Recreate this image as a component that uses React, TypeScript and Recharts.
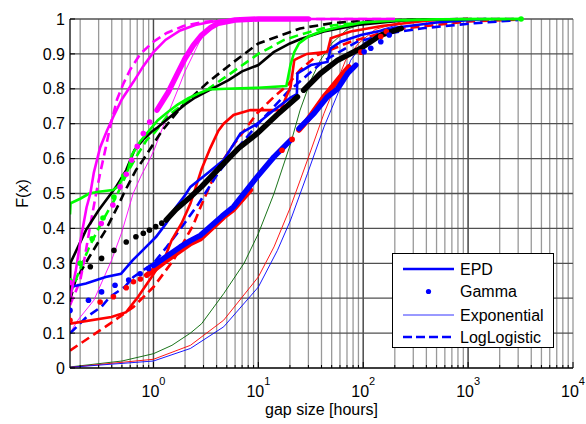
import React from 'react';
import { ComposedChart, Line, Scatter, XAxis, YAxis, CartesianGrid, Legend } from 'recharts';

const FONT = '"Liberation Sans", Arial, Helvetica, sans-serif';

type P = { x: number; y: number };
const pts = (a: number[][]): P[] => a.map(([x, y]) => ({ x, y }));

// ---------- axes ----------
const xTicks = [0.2, 0.3, 0.4, 0.5, 0.6, 0.7, 0.8, 0.9, 1, 2, 3, 4, 5, 6, 7, 8, 9, 10, 20, 30, 40, 50, 60, 70, 80, 90,
  100, 200, 300, 400, 500, 600, 700, 800, 900, 1000, 2000, 3000, 4000, 5000, 6000, 7000, 8000, 9000, 10000];
const xDecades = [1, 10, 100, 1000, 10000];
const xDecadeExp = ['0', '1', '2', '3', '4'];
const majorGrid = [1, 10, 100, 1000];
const yTicks = [0, 0.1, 0.2, 0.3, 0.4, 0.5, 0.6, 0.7, 0.8, 0.9, 1];
const yLabels = ['0', '0.1', '0.2', '0.3', '0.4', '0.5', '0.6', '0.7', '0.8', '0.9', '1'];
const xDomain = [0.16, 10000];

// ---------- magenta ----------
const magentaEPD = pts([[0.16, 0.2], [0.182, 0.28], [0.2, 0.36], [0.23, 0.46], [0.25, 0.5], [0.27, 0.56], [0.31, 0.632], [0.36, 0.68], [0.414, 0.72], [0.5, 0.77], [0.644, 0.82], [0.8, 0.865], [1, 0.905], [1.3, 0.94], [1.8, 0.967], [2.5, 0.983], [3.7, 0.993], [6, 0.998], [10, 1], [200, 1]]);
const magentaLL = pts([[0.16, 0.18], [0.2, 0.25], [0.222, 0.32], [0.25, 0.41], [0.28, 0.49], [0.31, 0.558], [0.35, 0.63], [0.385, 0.69], [0.45, 0.77], [0.517, 0.815], [0.6, 0.855], [0.75, 0.9], [1, 0.935], [1.34, 0.96], [1.93, 0.98], [3, 0.992], [6, 0.998], [20, 1], [200, 1]]);
const magentaGammaDots = pts([[0.16, 0.245], [0.318, 0.414], [0.41, 0.467], [0.48, 0.519], [0.55, 0.555], [0.62, 0.596], [0.7, 0.635], [0.8, 0.672], [0.92, 0.705]]);
const magentaGammaDense = pts([[1.08, 0.739], [1.38, 0.79], [1.7, 0.845], [2, 0.887], [2.4, 0.925], [2.88, 0.954], [3.5, 0.975], [4.16, 0.988], [6, 0.997], [10, 1], [30, 1]]);
const magentaExpo = pts([[0.16, 0.1], [0.19, 0.137], [0.27, 0.194], [0.4, 0.31], [0.5, 0.39], [0.64, 0.5], [0.76, 0.55], [0.93, 0.6], [1.03, 0.63], [1.34, 0.72], [1.72, 0.8], [2, 0.85], [2.5, 0.91], [2.8, 0.94], [3.34, 0.975], [4.5, 0.993], [7, 1], [20, 1]]);

// ---------- green ----------
const greenEPD = pts([[0.16, 0.44], [0.162, 0.472], [0.2, 0.485], [0.244, 0.5], [0.3, 0.505], [0.41, 0.51], [0.46, 0.52], [0.5, 0.54], [0.57, 0.567], [0.62, 0.61], [0.75, 0.65], [0.89, 0.677], [1.1, 0.71], [1.38, 0.734], [1.7, 0.755], [2.15, 0.773], [2.7, 0.787], [3.34, 0.798], [5, 0.8], [10, 0.803], [18.5, 0.808], [20.3, 0.87], [22, 0.905], [24.4, 0.93], [30, 0.95], [40, 0.965], [60, 0.978], [100, 0.99], [200, 0.996], [500, 0.999], [3200, 1]]);
const greenLL = pts([[0.16, 0.21], [0.18, 0.25], [0.244, 0.347], [0.33, 0.424], [0.44, 0.49], [0.556, 0.557], [0.7, 0.61], [0.86, 0.653], [1.03, 0.675], [1.34, 0.72], [1.72, 0.745], [2.08, 0.765], [3.34, 0.8], [5.2, 0.84], [10, 0.9], [17.6, 0.94], [25, 0.955], [52, 0.982], [100, 0.99], [300, 0.997], [1000, 1], [3200, 1]]);
const greenGammaDots = pts([[0.16, 0.25], [0.2, 0.3], [0.26, 0.37], [0.33, 0.43], [0.42, 0.49], [0.52, 0.55], [3200, 1]]);
const greenExpo = pts([[0.16, 0.003], [0.5, 0.02], [1, 0.041], [1.5, 0.065], [2.25, 0.1], [2.88, 0.127], [4.67, 0.213], [7.3, 0.3], [10, 0.385], [14.1, 0.5], [20.3, 0.643], [25, 0.739], [31.7, 0.825], [39, 0.882], [50, 0.93], [70, 0.97], [95, 0.985], [150, 0.997], [300, 1]]);

// ---------- black ----------
const blackEPD = pts([[0.16, 0.19], [0.161, 0.3], [0.2, 0.36], [0.227, 0.395], [0.3, 0.452], [0.44, 0.519], [0.55, 0.567], [0.66, 0.625], [0.8, 0.655], [0.96, 0.677], [1.1, 0.69], [1.38, 0.715], [2, 0.755], [2.5, 0.775], [3.34, 0.795], [5.2, 0.825], [7, 0.85], [10, 0.868], [14, 0.905], [20, 0.93], [25, 0.942], [42, 0.964], [88, 0.983], [266, 0.997], [1000, 1]]);
const blackLL = pts([[0.16, 0.194], [0.18, 0.25], [0.244, 0.318], [0.35, 0.395], [0.47, 0.471], [0.53, 0.505], [0.68, 0.567], [0.77, 0.59], [1.19, 0.677], [1.85, 0.749], [3.34, 0.82], [6, 0.88], [10, 0.93], [25, 0.973], [50, 0.988], [100, 0.995], [1000, 1], [3200, 1]]);
const blackGammaDots = pts([[0.25, 0.29], [0.32, 0.314], [0.42, 0.337], [0.55, 0.361], [0.68, 0.376], [0.8, 0.386], [0.915, 0.395], [1.05, 0.405], [1.2, 0.415]]);
const blackGammaDense = pts([[1.32, 0.424], [1.65, 0.455], [2.25, 0.49], [2.88, 0.52], [4.67, 0.586], [6.5, 0.63], [9.75, 0.672], [15, 0.725], [23.6, 0.777]]);
const blackGammaDense2 = pts([[27, 0.796], [39, 0.844], [57, 0.882], [95, 0.916], [147, 0.954], [230, 0.973]]);

// ---------- blue ----------
const blueEPD = pts([[0.16, 0.21], [0.161, 0.232], [0.227, 0.242], [0.35, 0.261], [0.49, 0.27], [0.635, 0.309], [0.85, 0.347], [1.06, 0.376], [1.32, 0.414], [1.65, 0.462], [2, 0.495], [2.25, 0.519], [3.34, 0.56], [4.67, 0.596], [6.75, 0.672], [9.75, 0.7], [14.1, 0.739], [20.3, 0.775], [23.3, 0.785], [23.6, 0.844], [31.7, 0.868], [45.6, 0.877], [49, 0.916], [61, 0.935], [95, 0.954], [200, 0.975], [500, 0.99], [1500, 1]]);
const blueLL = pts([[0.16, 0.099], [0.23, 0.146], [0.318, 0.175], [0.385, 0.204], [0.53, 0.232], [0.645, 0.261], [1, 0.3], [1.34, 0.347], [1.72, 0.39], [2.08, 0.424], [2.68, 0.47], [4.16, 0.56], [6.75, 0.64], [10, 0.7], [18.9, 0.79], [27, 0.83], [42, 0.88], [88, 0.935], [184, 0.96], [384, 0.974], [1150, 0.988], [3000, 0.997]]);
const blueGammaDots = pts([[0.16, 0.165], [0.24, 0.194], [0.32, 0.218], [0.43, 0.237], [0.58, 0.252], [0.746, 0.27], [0.9, 0.285], [102, 0.906], [118, 0.916], [147, 0.935], [177, 0.954]]);
const blueGammaDense = pts([[1, 0.294], [1.34, 0.32], [1.8, 0.347], [2.25, 0.365], [2.8, 0.38], [4.5, 0.435], [5.8, 0.462], [9.75, 0.548], [14.1, 0.605], [20.3, 0.653]]);
const blueGammaDense2 = pts([[24.4, 0.686], [34, 0.73], [45.6, 0.777], [57, 0.8], [71, 0.844], [85, 0.868]]);
const blueExpo = pts([[0.16, 0.002], [1, 0.02], [2.25, 0.056], [4.67, 0.118], [10, 0.232], [15.2, 0.337], [20.3, 0.424], [29.4, 0.557], [42.3, 0.691], [61, 0.806], [76, 0.882], [100, 0.93], [150, 0.97], [250, 0.99], [500, 1]]);

// ---------- red ----------
const redEPD = pts([[0.16, 0.127], [0.397, 0.146], [0.55, 0.16], [0.714, 0.204], [0.96, 0.261], [1.11, 0.29], [1.29, 0.318], [1.49, 0.366], [1.85, 0.414], [2.25, 0.471], [2.88, 0.57], [3.48, 0.63], [4.16, 0.68], [4.67, 0.7], [5.8, 0.725], [8.4, 0.739], [16.3, 0.739], [20.3, 0.806], [22, 0.882], [23.6, 0.887], [29, 0.9], [45.6, 0.906], [49, 0.945], [76, 0.964], [150, 0.98], [400, 0.995], [1000, 1]]);
const redLL = pts([[0.16, 0.05], [0.385, 0.127], [0.645, 0.175], [1, 0.232], [1.55, 0.309], [2.4, 0.41], [2.8, 0.46], [4.05, 0.57], [5.8, 0.64], [9.75, 0.73], [14.1, 0.777], [18.9, 0.81], [25, 0.854], [36.7, 0.897], [76, 0.935], [200, 0.97], [1000, 0.993], [3000, 0.998]]);
const redGammaDots = pts([[0.16, 0.137], [0.31, 0.189], [0.415, 0.204], [0.55, 0.23], [0.644, 0.247], [0.75, 0.255], [16.8, 0.624], [21, 0.655], [95, 0.905], [147, 0.95], [166, 0.964]]);
const redGammaDense = pts([[0.86, 0.266], [1, 0.28], [1.34, 0.309], [2.25, 0.357], [2.8, 0.37], [4.67, 0.433], [5.8, 0.455], [8.4, 0.51]]);
const redGammaDense2 = pts([[24.4, 0.682], [29.4, 0.71], [42.3, 0.777], [49, 0.8], [61, 0.835], [73, 0.863]]);
const redExpo = pts([[0.16, 0.002], [1, 0.025], [2.25, 0.065], [4.67, 0.137], [10, 0.261], [14.1, 0.347], [20.3, 0.462], [29.4, 0.596], [42.3, 0.73], [57, 0.825], [68, 0.882], [90, 0.93], [130, 0.97], [250, 0.995], [500, 1]]);

// ---------- styling ----------
const MAGENTA = '#ff00ff';
const GREEN = '#00ff00';
const DARKGREEN = '#006400';
const BLACK = '#000000';
const BLUE = '#0000ff';
const RED = '#ff0000';

const expoLines = [
  { id: 'ge', data: greenExpo, color: DARKGREEN },
  { id: 're', data: redExpo, color: RED },
  { id: 'be', data: blueExpo, color: BLUE },
  { id: 'me', data: magentaExpo, color: MAGENTA },
];
const llLines = [
  { id: 'rl', data: redLL, color: RED },
  { id: 'bl', data: blueLL, color: BLUE },
  { id: 'kl', data: blackLL, color: BLACK },
  { id: 'gl', data: greenLL, color: GREEN },
  { id: 'ml', data: magentaLL, color: MAGENTA },
];
const epdLines = [
  { id: 'rp', data: redEPD, color: RED },
  { id: 'bp', data: blueEPD, color: BLUE },
  { id: 'kp', data: blackEPD, color: BLACK },
  { id: 'gp', data: greenEPD, color: GREEN },
  { id: 'mp', data: magentaEPD, color: MAGENTA },
];
const gammaDense = [
  { id: 'rd1', data: redGammaDense, color: RED },
  { id: 'rd2', data: redGammaDense2, color: RED },
  { id: 'bd1', data: blueGammaDense, color: BLUE },
  { id: 'bd2', data: blueGammaDense2, color: BLUE },
  { id: 'kd1', data: blackGammaDense, color: BLACK },
  { id: 'kd2', data: blackGammaDense2, color: BLACK },
  { id: 'md1', data: magentaGammaDense, color: MAGENTA },
];
const gammaDots = [
  { id: 'rs', data: redGammaDots, color: RED },
  { id: 'bs', data: blueGammaDots, color: BLUE },
  { id: 'ks', data: blackGammaDots, color: BLACK },
  { id: 'gs', data: greenGammaDots, color: GREEN },
  { id: 'ms', data: magentaGammaDots, color: MAGENTA },
];

const legendItems = ['EPD', 'Gamma', 'Exponential', 'LogLogistic'];

// ---------- ticks ----------
const BottomTick = (props: any) => {
  const { x, y, payload } = props;
  const i = xDecades.indexOf(payload.value);
  const major = i >= 0;
  return (
    <g>
      <line x1={x} x2={x} y1={y} y2={y - (major ? 6 : 3)} stroke="#000" strokeWidth={1} />
      {major && (
        <text x={x} y={y + 29} textAnchor="middle" fontSize={16} fontFamily={FONT} fill="#000">
          10<tspan dy={-12} fontSize={11}>{xDecadeExp[i]}</tspan>
        </text>
      )}
    </g>
  );
};

const TopTick = (props: any) => {
  const { x, y, payload } = props;
  const major = xDecades.indexOf(payload.value) >= 0;
  return <line x1={x} x2={x} y1={y} y2={y + (major ? 6 : 3)} stroke="#000" strokeWidth={1} />;
};

const LeftTick = (props: any) => {
  const { x, y, payload } = props;
  const i = yTicks.indexOf(payload.value);
  return (
    <g>
      <line x1={x} x2={x + 5} y1={y} y2={y} stroke="#000" strokeWidth={1} />
      <text x={x - 5} y={y} dy="0.35em" textAnchor="end" fontSize={16} fontFamily={FONT} fill="#000">
        {yLabels[i]}
      </text>
    </g>
  );
};

const RightTick = (props: any) => {
  const { x, y } = props;
  return <line x1={x} x2={x - 5} y1={y} y2={y} stroke="#000" strokeWidth={1} />;
};

const renderLegend = () => (
  <div style={{ width: 160, height: 93, border: '1px solid #000', background: '#fff', boxSizing: 'content-box' }}>
    <svg width={160} height={93} style={{ display: 'block' }}>
      {legendItems.map((name, i) => {
        const cy = [15, 37.5, 61, 83][i];
        return (
          <g key={name}>
            {i === 0 && <line x1={10} x2={61} y1={cy} y2={cy} stroke={BLUE} strokeWidth={2.6} />}
            {i === 1 && <circle cx={35.5} cy={cy} r={2.6} fill={BLUE} />}
            {i === 2 && <line x1={10} x2={61} y1={cy} y2={cy} stroke={BLUE} strokeWidth={0.8} />}
            {i === 3 && <line x1={10} x2={61} y1={cy} y2={cy} stroke={BLUE} strokeWidth={2.6} strokeDasharray="9 4" />}
            <text x={67} y={cy} dy="0.35em" fontSize={16} fontFamily={FONT} fill="#000">{name}</text>
          </g>
        );
      })}
    </svg>
  </div>
);

// major (decade) grid lines, placed on the same log mapping as the x axis
const majorGridGen = (args: any) => {
  const off = args?.offset;
  if (!off) return [];
  const l0 = Math.log10(xDomain[0]);
  const l1 = Math.log10(xDomain[1]);
  return majorGrid.map((v) => off.left + ((Math.log10(v) - l0) / (l1 - l0)) * off.width);
};

export default function App() {
  return (
    <div style={{ position: 'absolute', left: 0, top: 0, width: 586, height: 424, background: '#fff' }}>
      <ComposedChart width={586} height={424} margin={{ top: 19, right: 13, bottom: 0, left: 0 }}>
        <CartesianGrid horizontal={false} vertical stroke="#999999" strokeWidth={1.3} />
        <CartesianGrid horizontal={false} vertical stroke="#4a4a4a" strokeWidth={1.3} verticalCoordinatesGenerator={majorGridGen} />
        <CartesianGrid horizontal vertical={false} stroke="#505050" strokeWidth={1.3} />
        <XAxis
          xAxisId={0}
          dataKey="x"
          type="number"
          scale="log"
          domain={xDomain}
          allowDataOverflow
          ticks={xTicks}
          interval={0}
          height={56}
          tickSize={0}
          tickMargin={0}
          tickLine={false}
          axisLine={{ stroke: '#000', strokeWidth: 1 }}
          tick={<BottomTick />}
          label={{
            content: (p: any) => (
              <text x={p.viewBox.x + p.viewBox.width / 2} y={p.viewBox.y + 47} textAnchor="middle" fontSize={16} fontFamily={FONT} fill="#000">
                gap size [hours]
              </text>
            ),
          }}
        />
        <XAxis
          xAxisId="top"
          orientation="top"
          dataKey="x"
          type="number"
          scale="log"
          domain={xDomain}
          allowDataOverflow
          ticks={xTicks}
          interval={0}
          height={0}
          tickSize={0}
          tickMargin={0}
          tickLine={false}
          axisLine={{ stroke: '#000', strokeWidth: 1 }}
          tick={<TopTick />}
        />
        <YAxis
          yAxisId={0}
          type="number"
          domain={[0, 1]}
          ticks={yTicks}
          interval={0}
          width={70}
          tickSize={0}
          tickMargin={0}
          tickLine={false}
          axisLine={{ stroke: '#000', strokeWidth: 1 }}
          tick={<LeftTick />}
          label={{
            content: (p: any) => {
              const cy = p.viewBox.y + p.viewBox.height / 2;
              return (
                <text x={28} y={cy} transform={`rotate(-90, 28, ${cy})`} textAnchor="middle" fontSize={16} fontFamily={FONT} fill="#000">
                  F(x)
                </text>
              );
            },
          }}
        />
        <YAxis
          yAxisId="right"
          orientation="right"
          type="number"
          domain={[0, 1]}
          ticks={yTicks}
          interval={0}
          width={0}
          tickSize={0}
          tickMargin={0}
          tickLine={false}
          axisLine={{ stroke: '#000', strokeWidth: 1 }}
          tick={<RightTick />}
        />
        {expoLines.map((s) => (
          <Line key={s.id} data={s.data} dataKey="y" type="linear" stroke={s.color} strokeWidth={0.9} dot={false} activeDot={false} isAnimationActive={false} />
        ))}
        {llLines.map((s) => (
          <Line key={s.id} data={s.data} dataKey="y" type="linear" stroke={s.color} strokeWidth={2.6} strokeDasharray="9 5" dot={false} activeDot={false} isAnimationActive={false} />
        ))}
        {epdLines.map((s) => (
          <Line key={s.id} data={s.data} dataKey="y" type="linear" stroke={s.color} strokeWidth={2.6} dot={false} activeDot={false} isAnimationActive={false} />
        ))}
        {gammaDense.map((s) => (
          <Line key={s.id} data={s.data} dataKey="y" type="linear" stroke={s.color} strokeWidth={5.5} strokeLinecap="round" strokeLinejoin="round" dot={false} activeDot={false} isAnimationActive={false} />
        ))}
        {gammaDots.map((s) => (
          <Scatter
            key={s.id}
            data={s.data}
            dataKey="y"
            isAnimationActive={false}
            shape={(p: any) => <circle cx={p.cx} cy={p.cy} r={2.8} fill={s.color} />}
          />
        ))}
        <Legend
          layout="vertical"
          align="center"
          verticalAlign="middle"
          content={renderLegend}
          wrapperStyle={{ position: 'absolute', left: 392, top: 253, width: 162, height: 95 }}
        />
      </ComposedChart>
    </div>
  );
}
